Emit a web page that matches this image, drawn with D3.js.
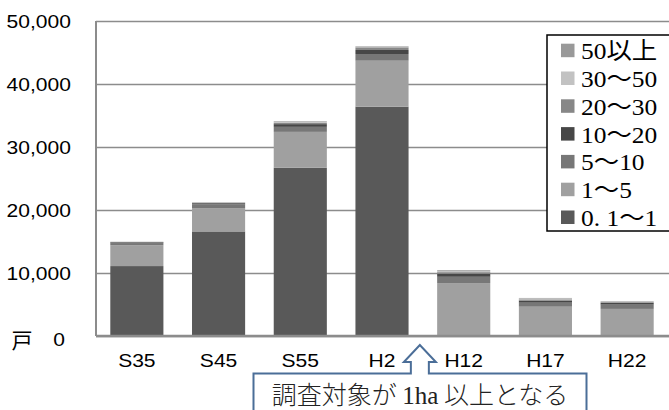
<!DOCTYPE html>
<html lang="ja">
<head>
    <meta charset="utf-8">
    <script type="text/javascript" src="https://d3js.org/d3.v7.min.js"></script>
    <style>
        body { margin: 0; background: #fff; }
    </style>
</head>

<body>
    <script type="text/javascript">
        let w = 669;
        let h = 410;

        // data (戸)
        let categories = ["S35", "S45", "S55", "H2", "H12", "H17", "H22"];
        let sizeClasses = ["0. 1～1", "1～5", "5～10", "10～20", "20～30", "30～50", "50以上"];
        let s0_1to1 = [11100, 16600, 26700, 36400, 0, 0, 0];
        let s1to5 = [3300, 3700, 5700, 7300, 8400, 4650, 4300];
        let s5to10 = [350, 600, 800, 1060, 1000, 640, 680];
        let s10to20 = [120, 180, 430, 640, 480, 320, 270];
        let s20to30 = [50, 80, 200, 420, 250, 200, 120];
        let s30to50 = [30, 50, 150, 150, 200, 150, 110];
        let s50up = [20, 30, 100, 50, 120, 80, 60];
        let yTicks = [0, 10000, 20000, 30000, 40000, 50000];

        let colors = ["#595959", "#a0a0a0", "#777777", "#474747", "#878787", "#c2c2c2", "#999999"];
        let seriesValues = [s0_1to1, s1to5, s5to10, s10to20, s20to30, s30to50, s50up];

        let rows = categories.map(function(c, i) {
            let r = { cat: c };
            sizeClasses.forEach(function(k, j) { r[k] = seriesValues[j][i]; });
            return r;
        });

        let plotLeft = 96, plotRight = 668, plotTop = 21, plotBottom = 336;
        let stretch = 1.17; // chart text is a bit wide in the original

        let svg = d3.select("body").append("svg")
            .attr("width", w)
            .attr("height", h);

        let x = d3.scaleBand()
            .domain(categories)
            .range([plotLeft, plotRight])
            .paddingInner(0.35)
            .paddingOuter(0.175);

        let y = d3.scaleLinear()
            .domain([0, 50000])
            .range([plotBottom, plotTop]);

        // gridlines
        svg.append("g")
            .attr("transform", "translate(" + plotLeft + ",0)")
            .call(d3.axisLeft(y).tickValues(yTicks).tickSize(-(w - plotLeft)).tickFormat(""))
            .call(function(g) {
                g.select(".domain").remove();
                g.selectAll("line").attr("stroke", "#8c8c8c").attr("stroke-width", 1.5);
            });

        // bars
        let stacked = d3.stack().keys(sizeClasses)(rows);

        svg.append("g")
            .selectAll("g")
            .data(stacked)
            .join("g")
                .attr("fill", function(d, i) { return colors[i]; })
            .selectAll("rect")
            .data(function(d) { return d; })
            .join("rect")
                .attr("x", function(d) { return x(d.data.cat); })
                .attr("y", function(d) { return y(d[1]); })
                .attr("height", function(d) { return y(d[0]) - y(d[1]); })
                .attr("width", x.bandwidth());

        // y axis line
        svg.append("line")
            .attr("x1", plotLeft).attr("x2", plotLeft)
            .attr("y1", plotTop).attr("y2", plotBottom)
            .attr("stroke", "#8c8c8c")
            .attr("stroke-width", 2);

        // x axis line
        svg.append("line")
            .attr("x1", plotLeft).attr("x2", w)
            .attr("y1", plotBottom).attr("y2", plotBottom)
            .attr("stroke", "#8c8c8c")
            .attr("stroke-width", 2.5);

        // y tick labels
        svg.append("g")
            .attr("transform", "translate(" + plotLeft + ",0)")
            .call(d3.axisLeft(y).tickValues(yTicks).tickSize(0).tickFormat(d3.format(",")))
            .call(function(g) {
                g.select(".domain").remove();
                g.selectAll("text")
                    .attr("x", 0)
                    .attr("dy", "0.36em")
                    .attr("transform", function(d) {
                        return d === 0 ? "translate(-31,3) scale(" + stretch + ",1)" : "translate(-25,0) scale(" + stretch + ",1)";
                    })
                    .attr("font-family", "'Liberation Sans', Arial, sans-serif")
                    .attr("font-size", 18)
                    .attr("fill", "#000");
            });

        // x tick labels
        svg.append("g")
            .attr("transform", "translate(0," + plotBottom + ")")
            .call(d3.axisBottom(x).tickSize(0))
            .call(function(g) {
                g.select(".domain").remove();
                g.selectAll("text")
                    .attr("y", 0)
                    .attr("dy", 0)
                    .attr("transform", "translate(0,31) scale(" + stretch + ",1)")
                    .attr("font-family", "'Liberation Sans', Arial, sans-serif")
                    .attr("font-size", 18)
                    .attr("fill", "#000");
            });

        // unit
        svg.append("text")
            .attr("x", 22)
            .attr("y", 348)
            .attr("text-anchor", "middle")
            .attr("font-family", "'Noto Sans CJK JP'")
            .attr("font-size", 21)
            .text("戸");

        // legend
        let lg = svg.append("g");
        lg.append("rect")
            .attr("x", 547).attr("y", 35)
            .attr("width", 125).attr("height", 196)
            .attr("fill", "#fff")
            .attr("stroke", "#000")
            .attr("stroke-width", 1.5);

        let legendOrder = sizeClasses.slice().reverse();
        let items = lg.selectAll("g.item")
            .data(legendOrder)
            .join("g")
                .attr("class", "item")
                .attr("transform", function(d, i) { return "translate(561," + (50.7 + i * 27.8) + ")"; });

        items.append("rect")
            .attr("x", 0).attr("y", -7)
            .attr("width", 13.5).attr("height", 13.5)
            .attr("fill", function(d) { return colors[sizeClasses.indexOf(d)]; });

        items.append("text")
            .attr("transform", "translate(20,8.5) scale(1.06,1)")
            .attr("font-family", "'Liberation Serif', 'Noto Sans CJK JP', serif")
            .attr("font-size", 24)
            .attr("fill", "#000")
            .text(function(d) { return d; });

        // callout: arrow + box
        let ax = x.range()[0] + x.step() * 4 - 3; // just left of the H2/H12 boundary
        let callout = d3.path();
        callout.moveTo(253.5, 415);
        callout.lineTo(253.5, 373.5);
        callout.lineTo(ax - 9, 373.5);
        callout.lineTo(ax - 9, 362);
        callout.lineTo(ax - 16, 362);
        callout.lineTo(ax, 345);
        callout.lineTo(ax + 16, 362);
        callout.lineTo(ax + 9, 362);
        callout.lineTo(ax + 9, 373.5);
        callout.lineTo(586.5, 373.5);
        callout.lineTo(586.5, 415);

        svg.append("path")
            .attr("d", callout.toString())
            .attr("fill", "#fff")
            .attr("stroke", "#4b6e98")
            .attr("stroke-width", 2);

        let note = svg.append("text")
            .attr("x", 420)
            .attr("y", 404)
            .attr("text-anchor", "middle")
            .attr("font-family", "'Noto Sans CJK JP'")
            .attr("font-weight", 300)
            .attr("font-size", 25)
            .attr("fill", "#222");
        note.append("tspan").text("調査対象が ");
        note.append("tspan").attr("font-family", "'Liberation Serif', serif").text("1ha");
        note.append("tspan").text(" 以上となる");
    </script>
</body>
</html>
